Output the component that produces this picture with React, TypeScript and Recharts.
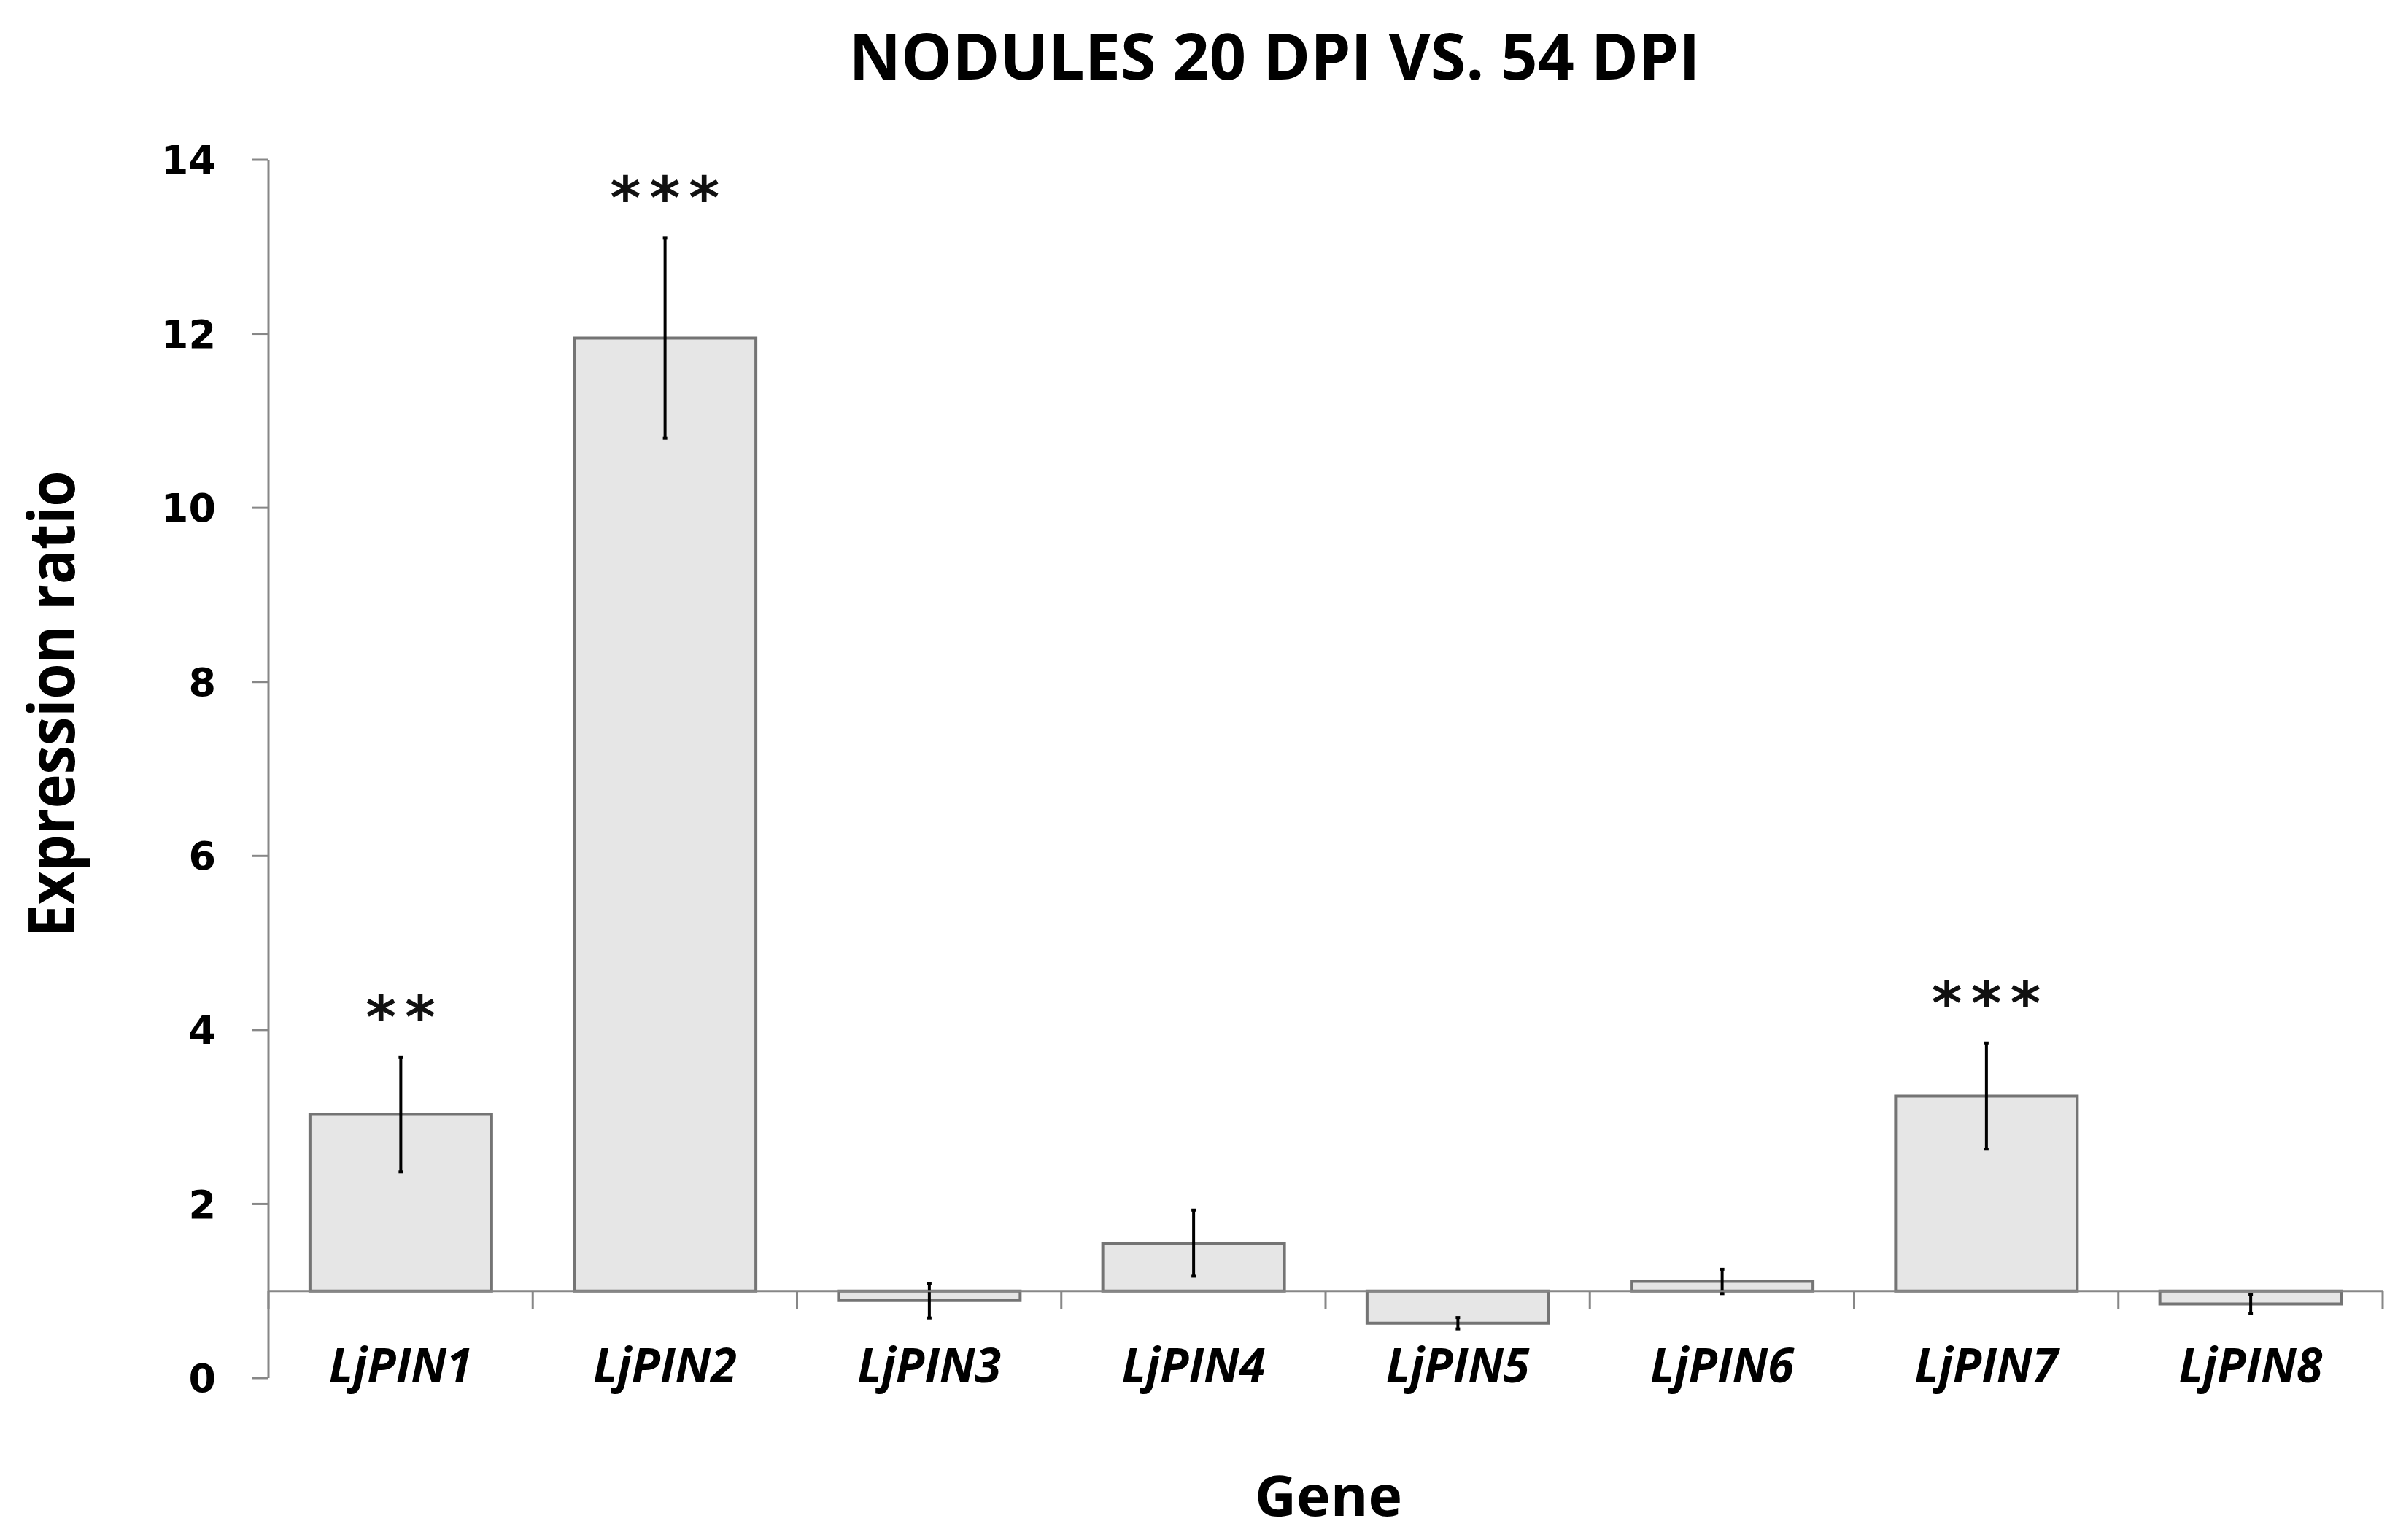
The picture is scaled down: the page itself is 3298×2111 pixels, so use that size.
import {
  ComposedChart,
  Bar,
  ErrorBar,
  Line,
  XAxis,
  YAxis,
  ReferenceLine,
} from "recharts";

const GENES = ["LjPIN1", "LjPIN2", "LjPIN3", "LjPIN4", "LjPIN5", "LjPIN6", "LjPIN7", "LjPIN8"];
const RATIO = [3.03, 11.95, 0.89, 1.55, 0.63, 1.11, 3.24, 0.85];
const SEM = [0.66, 1.15, 0.2, 0.38, 0.065, 0.14, 0.61, 0.11];
const SIG = ["**", "***", "", "", "", "", "***", ""];
const Y_TICKS = [0, 2, 4, 6, 8, 10, 12, 14];
const BASELINE = 1;

// layout
const W = 3282;
const H = 2095;
const M = { top: 211, right: 24, bottom: 114, left: 240 };
const Y_AXIS_W = 120;
const X_AXIS_H = 100;
const PLOT_L = M.left + Y_AXIS_W;
const PLOT_W = W - PLOT_L - M.right;
const PLOT_H = H - M.top - M.bottom - X_AXIS_H;
const AXIS_Y = M.top + PLOT_H * (1 - BASELINE / 14);
const HALF_BAND = PLOT_W / GENES.length / 2;

const GREY = "#878787";
const HEAD = "'Open Sans', sans-serif";

const data = GENES.map((gene, i) => ({
  gene,
  range: [BASELINE, RATIO[i]],
  err: SEM[i],
  sig: SIG[i],
  sigY: SIG[i] ? RATIO[i] + SEM[i] : null,
}));

function GeneTick(props: any) {
  const { x, payload, index } = props;
  return (
    <g>
      <line x1={x - HALF_BAND} x2={x - HALF_BAND} y1={AXIS_Y} y2={AXIS_Y + 25} stroke={GREY} strokeWidth={3} />
      {index === GENES.length - 1 && (
        <line x1={x + HALF_BAND} x2={x + HALF_BAND} y1={AXIS_Y} y2={AXIS_Y + 25} stroke={GREY} strokeWidth={3} />
      )}
      <text
        x={x}
        y={AXIS_Y + 125}
        textAnchor="middle"
        fontFamily={HEAD}
        fontWeight={700}
        fontStyle="italic"
        fontSize={67}
        textLength={197}
        lengthAdjust="spacingAndGlyphs"
        fill="#000"
      >
        {payload.value}
      </text>
    </g>
  );
}

function Stars(props: any) {
  const { cx, cy, payload, index } = props;
  if (!payload || !payload.sig || cy == null) return <g key={index} />;
  return (
    <text
      key={index}
      x={cx + 6}
      y={cy - 27}
      textAnchor="middle"
      fontFamily="'DejaVu Sans', sans-serif"
      fontWeight={700}
      fontSize={80}
      letterSpacing={12}
      fill="#111"
    >
      {payload.sig}
    </text>
  );
}

export default function App() {
  return (
    <div style={{ width: W, height: H, background: "#fff" }}>
      <ComposedChart width={W} height={H} data={data} margin={M} barCategoryGap="15.7%">
        <XAxis
          dataKey="gene"
          height={X_AXIS_H}
          axisLine={false}
          tickLine={false}
          interval={0}
          tick={<GeneTick />}
        />
        <YAxis
          width={Y_AXIS_W}
          domain={[0, 14]}
          ticks={Y_TICKS}
          allowDataOverflow
          axisLine={{ stroke: GREY, strokeWidth: 3 }}
          tickLine={{ stroke: GREY, strokeWidth: 3 }}
          tickSize={23}
          tickMargin={49}
          tick={{ fontSize: 54, fontWeight: 700, fontFamily: "'DejaVu Sans', sans-serif", fill: "#000" }}
        />
        <Bar dataKey="range" fill="#e6e6e6" stroke="#747474" strokeWidth={4} isAnimationActive={false}>
          <ErrorBar dataKey="err" direction="y" width={3} stroke="#000" strokeWidth={4} />
        </Bar>
        <ReferenceLine y={BASELINE} stroke={GREY} strokeWidth={3} />
        <Line
          dataKey="sigY"
          stroke="none"
          dot={Stars}
          activeDot={false}
          legendType="none"
          isAnimationActive={false}
        />
        <text
          x={1739}
          y={101}
          textAnchor="middle"
          fontFamily={HEAD}
          fontWeight={700}
          fontSize={88}
          textLength={1167}
          lengthAdjust="spacingAndGlyphs"
          fill="#000"
        >
          NODULES 20 DPI VS. 54 DPI
        </text>
        <text
          x={94}
          y={957}
          transform="rotate(-90, 94, 957)"
          textAnchor="middle"
          fontFamily={HEAD}
          fontWeight={700}
          fontSize={88}
          textLength={639}
          lengthAdjust="spacingAndGlyphs"
          fill="#000"
        >
          Expression ratio
        </text>
        <text
          x={1813}
          y={2070}
          textAnchor="middle"
          fontFamily={HEAD}
          fontWeight={700}
          fontSize={77}
          textLength={202}
          lengthAdjust="spacingAndGlyphs"
          fill="#000"
        >
          Gene
        </text>
      </ComposedChart>
    </div>
  );
}
